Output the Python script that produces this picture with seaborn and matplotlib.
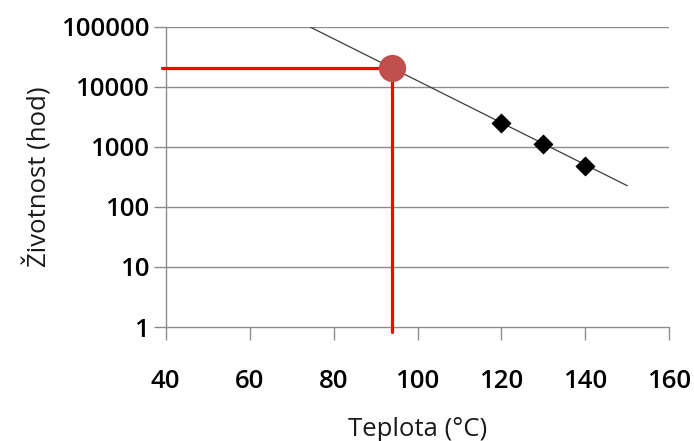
import matplotlib
matplotlib.use("Agg")
import matplotlib.pyplot as plt
import seaborn as sns
import numpy as np
import pandas as pd

# Data
temps = [120, 130, 140]
life_hours = [2500, 1130, 490]
trend_x = [74.4, 150.0]
trend_y = [100000, 226]
marker_x = [94]
marker_y = [20500]
x_ticks = [40, 60, 80, 100, 120, 140, 160]
y_ticks = [1, 10, 100, 1000, 10000, 100000]
y_tick_labels = ["1", "10", "100", "1000", "10000", "100000"]

sns.set_theme(style="white")
plt.rcParams['font.family'] = ['Open Sans', 'DejaVu Sans']

fig = plt.figure(figsize=(6.94, 4.41), dpi=100)
ax = fig.add_axes([0.2388, 0.2585, 0.9644 - 0.2388, 0.9388 - 0.2585])

ax.set_xscale('linear')
ax.set_yscale('log')
ax.set_xlim(40, 160)
ax.set_ylim(1, 100000)

grid_c = '#8c8c8c'
for yv in y_ticks[1:]:
    ax.axhline(yv, color=grid_c, lw=1.0, zorder=1)

# trendline
sns.lineplot(x=trend_x, y=trend_y, ax=ax, color='#3a3a3a', lw=0.9, zorder=3)

# red guide lines
sns.lineplot(x=[39.0, marker_x[0]], y=[marker_y[0], marker_y[0]], ax=ax,
             color='#ff0000', lw=2.3, zorder=4).lines[-1].set_clip_on(False)
ln = ax.plot([marker_x[0], marker_x[0]], [0.82, marker_y[0]], color='#ff0000', lw=2.3, zorder=4)
ln[0].set_clip_on(False)

# points
sns.scatterplot(x=temps, y=life_hours, ax=ax, marker='D', s=90, color='black',
                edgecolor='black', zorder=5)
sns.scatterplot(x=marker_x, y=marker_y, ax=ax, marker='o', s=330, color='#c0504d',
                edgecolor='#c0504d', zorder=6)

ax.set_xticks(x_ticks)
ax.set_xticklabels([str(v) for v in x_ticks])
ax.set_yticks(y_ticks)
ax.set_yticklabels(y_tick_labels)
ax.yaxis.set_minor_locator(matplotlib.ticker.NullLocator())

for s in ['top', 'right']:
    ax.spines[s].set_visible(False)
for s in ['left', 'bottom']:
    ax.spines[s].set_color(grid_c)
    ax.spines[s].set_linewidth(1.0)

ax.tick_params(axis='both', which='major', direction='out', length=9, width=1.0,
               color=grid_c, labelsize=18.5, labelcolor='black',
               bottom=True, left=True, top=False, right=False)
ax.tick_params(axis='y', pad=3)
ax.tick_params(axis='x', pad=21)
for lab in ax.get_xticklabels() + ax.get_yticklabels():
    lab.set_fontweight('semibold')

ax.set_xlabel('Teplota (°C)', fontsize=18.5, color='#1a1a1a', labelpad=17)
ax.set_ylabel('Životnost (hod)', fontsize=18.5, color='#1a1a1a', labelpad=6)

fig.savefig('out.png', dpi=100)
